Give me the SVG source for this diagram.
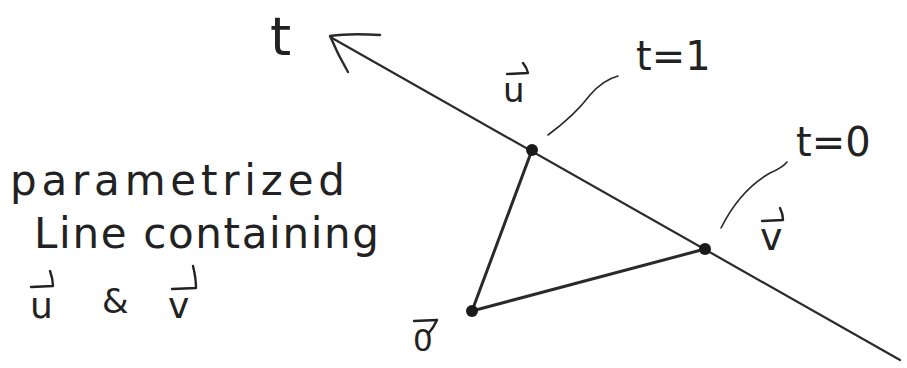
<svg xmlns="http://www.w3.org/2000/svg" width="907" height="368" viewBox="0 0 907 368">
<style>
.txt{font-family:"DejaVu Sans","Liberation Sans",sans-serif;fill:#222;font-weight:normal}
.ln{stroke:#2a2a2a;fill:none;stroke-linecap:round;stroke-linejoin:round}
.vec{stroke:#222;fill:none;stroke-width:2.4;stroke-linecap:round;stroke-linejoin:round}
.dot{fill:#1a1a1a}
</style>
<rect width="907" height="368" fill="#fff"/>
<g id="connectors">
<path class="ln" stroke-width="2.2" d="M332,38 L900,360"/>
<path class="ln" stroke-width="2.4" d="M380,35 Q350,33 330,36 Q338,55 348,72"/>
<path class="ln" stroke-width="3" d="M532,150 L472,311 L705,249"/>
<path class="ln" stroke-width="1.6" d="M548,135 Q575,115 590,95 Q603,80 618,76"/>
<path class="ln" stroke-width="1.6" d="M721,228 Q740,190 770,173 Q782,168 787,162"/>
</g>
<g id="node-u"><circle class="dot" cx="532" cy="150" r="6"/>
<path class="vec" d="M507,74 L528,73 Q527,68 523,63"/>
<text class="txt" x="503" y="102" font-size="34">u</text></g>
<g id="node-v"><circle class="dot" cx="705" cy="249" r="6"/>
<path class="vec" d="M762,221 L783,220 Q783,214 780,208"/>
<text class="txt" x="760" y="250" font-size="38">v</text></g>
<g id="node-o"><circle class="dot" cx="472" cy="311" r="6"/>
<path class="vec" d="M414,321 L437,320 Q434,327 428,334"/>
<text class="txt" x="413" y="351" font-size="31">0</text></g>
<g id="label-t"><text class="txt" x="270" y="55" font-size="54">t</text></g>
<g id="label-t1"><text class="txt" x="636" y="70" font-size="40">t=1</text></g>
<g id="label-t0"><text class="txt" x="796" y="156" font-size="40">t=0</text></g>
<g id="caption">
<text class="txt" x="10" y="195" font-size="42" textLength="335" lengthAdjust="spacing">parametrized</text>
<text class="txt" x="34" y="248" font-size="42" textLength="345" lengthAdjust="spacing">Line containing</text>
<path class="vec" d="M31,287 L53,286 Q53,279 50,271"/>
<text class="txt" x="30" y="318" font-size="36">u</text>
<text class="txt" x="102" y="313" font-size="34">&amp;</text>
<path class="vec" d="M172,289 L196,288 Q196,278 193,266"/>
<text class="txt" x="168" y="318" font-size="36">v</text>
</g>
</svg>
